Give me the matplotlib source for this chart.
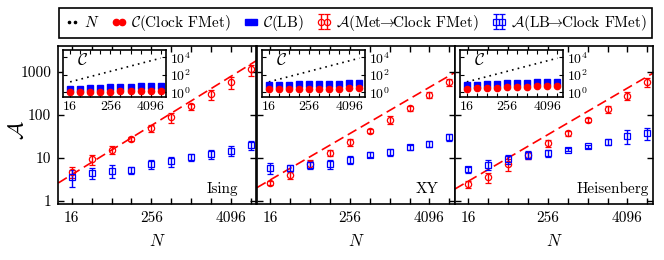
import numpy as np
import matplotlib
matplotlib.use("Agg")
import matplotlib.pyplot as plt
from matplotlib.lines import Line2D
from matplotlib.ticker import FixedLocator, FixedFormatter, NullFormatter, LogFormatterMathtext

plt.rcParams.update({"font.family": "cmr10", "mathtext.fontset": "cm", "axes.unicode_minus": False,
                     "font.size": 11, "axes.linewidth": 1.2, "axes.formatter.use_mathtext": True})

# system sizes
N = [16, 32, 64, 128, 256, 512, 1024, 2048, 4096, 8192]
models = ["Ising", "XY", "Heisenberg"]

# A(Met -> Clock FMet), red
A_met = [[4.6, 9.3, 15.4, 27, 49, 87, 156, 300, 570, 1150],
         [2.6, 4.0, 7.1, 12.8, 22.8, 42, 76, 144, 288, 570],
         [2.4, 3.5, 7.1, 11.5, 21.6, 37, 75, 135, 277, 570]]
A_met_err = [[1.3, 2.5, 3.5, 3, 10, 22, 25, 75, 170, 330],
             [0.3, 0.9, 1.5, 2.0, 4.5, 5, 15, 20, 45, 100],
             [0.4, 1.0, 2.2, 2.0, 4, 5, 9, 25, 55, 130]]
# A(LB -> Clock FMet), blue
A_lb = [[3.6, 4.4, 5.0, 5.2, 7.1, 8.3, 10.2, 12, 14.5, 19.8],
        [5.7, 5.6, 6.8, 7.1, 9.0, 11.7, 13.4, 17.4, 20.9, 29.7],
        [5.3, 6.9, 9.3, 11.7, 12.6, 15.4, 18.4, 23.6, 32.5, 37]]
A_lb_err = [[1.5, 1.3, 1.6, 1.0, 1.6, 2.3, 2.0, 2.8, 3.8, 5],
            [1.6, 1.0, 1.5, 1.6, 1.8, 1.5, 2.2, 2.5, 3.5, 5.5],
            [0.8, 1.8, 2.3, 2.5, 2.2, 1.5, 1.5, 3.5, 12, 11]]
# power-law fits A = a * N^b
fit_a = [0.288, 0.255, 0.234]
fit_b = [0.95, 0.895, 0.90]

# inset: C(Clock FMet) red, C(LB) blue
C_clock = [[1.05, 1.1, 1.15, 1.2, 1.25, 1.3, 1.35, 1.4, 1.5, 1.6],
           [2.5, 2.5, 2.6, 2.6, 2.7, 2.7, 2.8, 2.8, 2.9, 3.0],
           [2.8, 3.0, 3.3, 3.6, 3.9, 4.2, 4.5, 4.8, 5.1, 5.5]]
C_lb = [[2.5, 2.8, 3.1, 3.4, 3.7, 4.0, 4.4, 4.8, 5.1, 5.5],
        [7.2, 7.6, 8.0, 8.4, 8.8, 9.2, 9.6, 10.0, 10.5, 11.0],
        [7.2, 8.0, 9.0, 10.0, 11.0, 12.0, 13.0, 14.5, 15.5, 17.0]]

W, H = 664, 260
fig = plt.figure(figsize=(W / 100, H / 100), dpi=100)
lefts = [58.3, 257, 455]
label_x = [0.91, 0.915, 0.98]
pw, top, bot = 198, 46, 204
xf = np.geomspace(10, 10000, 200)
arrow = r"$\!\!\rightarrow\!\!$"

for i, m in enumerate(models):
    ax = fig.add_axes([lefts[i] / W, 1 - bot / H, pw / W, (bot - top) / H])
    ax.set_xscale("log", base=2); ax.set_yscale("log")
    ax.plot(xf, fit_a[i] * xf ** fit_b[i], color="red", lw=1.2, dashes=(6, 3), zorder=1)
    h_am = ax.errorbar(N, A_met[i], yerr=A_met_err[i], fmt="o", mfc="none", mec="red", ecolor="red",
                       ms=4.5, mew=0.9, elinewidth=1.0, capsize=2, capthick=1.0,
                       label=r"$\mathcal{A}$(Met" + arrow + "Clock FMet)")
    h_al = ax.errorbar(N, A_lb[i], yerr=A_lb_err[i], fmt="s", mfc="none", mec="blue", ecolor="blue",
                       ms=5, mew=0.9, elinewidth=1.0, capsize=2, capthick=1.0,
                       label=r"$\mathcal{A}$(LB" + arrow + "Clock FMet)")
    ax.set_xlim(10, 10000); ax.set_ylim(0.83, 4000)
    ax.xaxis.set_major_locator(FixedLocator([16, 256, 4096]))
    ax.xaxis.set_major_formatter(FixedFormatter(["16", "256", "4096"]))
    ax.xaxis.set_minor_locator(FixedLocator([32, 64, 128, 512, 1024, 2048, 8192]))
    ax.xaxis.set_minor_formatter(NullFormatter())
    ax.yaxis.set_major_locator(FixedLocator([1, 10, 100, 1000]))
    ax.yaxis.set_minor_locator(FixedLocator([]))
    if i == 0:
        ax.yaxis.set_major_formatter(FixedFormatter(["1", "10", "100", "1000"]))
        ax.set_ylabel(r"$\mathcal{A}$", fontsize=16)
        ax.yaxis.set_label_coords(-0.155, 0.47)
    else:
        ax.yaxis.set_major_formatter(NullFormatter())
    ax.tick_params(which="both", direction="in", top=True, right=True, length=4, width=1.0, pad=5)
    ax.set_xlabel(r"$N$", fontsize=12, labelpad=6)
    ax.text(label_x[i], 0.07, m, transform=ax.transAxes, ha="right", va="baseline", fontsize=11)

    # inset
    ins = fig.add_axes([(lefts[i] + 5) / W, 1 - 97 / H, 103 / W, 47 / H])
    ins.set_xscale("log", base=2); ins.set_yscale("log")
    ins.plot(N, N, color="black", lw=1.2, ls=(0, (1, 2.5)))
    h_cl, = ins.plot(N, C_lb[i], "s", color="blue", ms=5, label=r"$\mathcal{C}$(LB)")
    h_cc, = ins.plot(N, C_clock[i], "o", color="red", ms=4.5, label=r"$\mathcal{C}$(Clock FMet)")
    ins.set_xlim(10, 12000); ins.set_ylim(0.3, 7e4)
    ins.xaxis.set_major_locator(FixedLocator([16, 256, 4096]))
    ins.xaxis.set_major_formatter(FixedFormatter(["16", "256", "4096"]))
    ins.xaxis.set_minor_locator(FixedLocator([32, 64, 128, 512, 1024, 2048, 8192]))
    ins.xaxis.set_minor_formatter(NullFormatter())
    ins.yaxis.set_major_locator(FixedLocator([1, 100, 10000]))
    ins.yaxis.set_major_formatter(LogFormatterMathtext())
    ins.yaxis.set_minor_locator(FixedLocator([]))
    ins.yaxis.tick_right()
    ins.tick_params(which="both", direction="in", top=True, left=True, right=True, length=3,
                    width=0.8, pad=3, labelsize=10)
    ins.text(0.19, 0.68, r"$\mathcal{C}$", transform=ins.transAxes, ha="center", fontsize=12)
    if i == 0:
        h_n = Line2D([], [], ls="none", marker="o", ms=1.6, color="black", label=r"$N$")
        handles = [h_n, h_cc, h_cl, h_am, h_al]

leg = fig.legend(handles=handles, labels=[h.get_label() for h in handles], ncol=5, numpoints=2,
                 loc="center", bbox_to_anchor=(355.5 / W, 1 - 23 / H), fontsize=11,
                 handlelength=1.0, handletextpad=0.3, columnspacing=0.8, borderpad=0.35,
                 fancybox=False, framealpha=1, edgecolor="black")
leg.get_frame().set_linewidth(1.2)

fig.savefig("out.png", dpi=100)
